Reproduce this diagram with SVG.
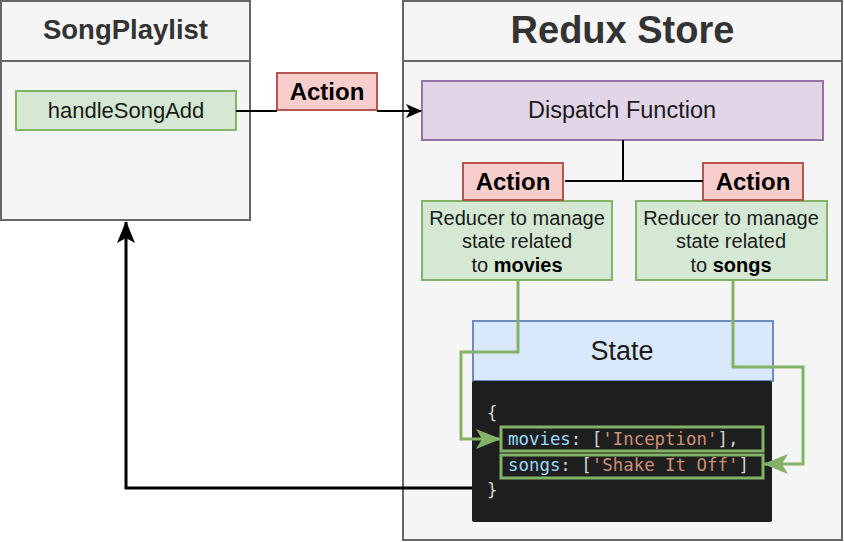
<svg xmlns="http://www.w3.org/2000/svg" width="844" height="542" viewBox="0 0 844 542">
<style>
.sans{font-family:"Liberation Sans",Arial,sans-serif;}
.mono{font-family:"DejaVu Sans Mono","Liberation Mono",monospace;font-size:17.4px;}
.cont{fill:#f5f5f5;stroke:#666666;stroke-width:2;}
.green{fill:#d5e8d4;stroke:#82b366;stroke-width:2;}
.red{fill:#f8cecc;stroke:#b85450;stroke-width:2;}
.act{font-size:24px;font-weight:bold;fill:#000;}
.red-txt{font-size:20px;fill:#1a1a1a;}
.k{fill:#9cdcfe;}.p{fill:#d4d4d4;}.s{fill:#ce9178;}
</style>
<defs>
<marker id="blk" markerWidth="16" markerHeight="16" refX="15" refY="8" orient="auto" markerUnits="userSpaceOnUse" viewBox="0 0 16 16"><path d="M0,1 L16,8 L0,15 L4,8 Z" fill="#000"/></marker>
<marker id="blk2" markerWidth="22" markerHeight="22" refX="21" refY="11" orient="auto" markerUnits="userSpaceOnUse" viewBox="0 0 22 22"><path d="M0,2 L22,11 L0,20 L5,11 Z" fill="#000"/></marker>
<marker id="grn" markerWidth="25" markerHeight="22" refX="24" refY="11" orient="auto" markerUnits="userSpaceOnUse" viewBox="0 0 25 22"><path d="M0,1 L25,11 L0,21 L6,11 Z" fill="#82b366"/></marker>
</defs>
<rect width="844" height="542" fill="#ffffff"/>
<g id="songplaylist">
<rect class="cont" x="1" y="1" width="249" height="219"/>
<line x1="1" y1="61" x2="250" y2="61" stroke="#666666" stroke-width="2"/>
<text class="sans" x="125.5" y="39" text-anchor="middle" font-size="27.5" font-weight="bold" fill="#333333">SongPlaylist</text>
</g>
<g id="handleSongAdd">
<rect class="green" x="16" y="91" width="220" height="39"/>
<text class="sans" x="126" y="118" text-anchor="middle" font-size="22" fill="#1a1a1a">handleSongAdd</text>
</g>
<g id="reduxstore">
<rect class="cont" x="403" y="1" width="439" height="539"/>
<line x1="403" y1="61" x2="842" y2="61" stroke="#666666" stroke-width="2"/>
<text class="sans" x="622.5" y="43" text-anchor="middle" font-size="38" font-weight="bold" fill="#333333">Redux Store</text>
</g>
<g id="dispatch">
<rect x="422" y="81" width="401" height="59" fill="#e1d5e7" stroke="#9673a6" stroke-width="2"/>
<text class="sans" x="622" y="118" text-anchor="middle" font-size="23.5" fill="#1a1a1a">Dispatch Function</text>
</g>
<g id="reducer-movies">
<rect class="green" x="422" y="201" width="190" height="79"/>
<text class="sans red-txt" x="517" y="225" text-anchor="middle">Reducer to manage</text>
<text class="sans red-txt" x="517" y="248" text-anchor="middle">state related</text>
<text class="sans red-txt" x="517" y="272" text-anchor="middle">to <tspan font-weight="bold" fill="#000">movies</tspan></text>
</g>
<g id="reducer-songs">
<rect class="green" x="636" y="201" width="191" height="79"/>
<text class="sans red-txt" x="731" y="225" text-anchor="middle">Reducer to manage</text>
<text class="sans red-txt" x="731" y="248" text-anchor="middle">state related</text>
<text class="sans red-txt" x="731" y="272" text-anchor="middle">to <tspan font-weight="bold" fill="#000">songs</tspan></text>
</g>
<g id="state">
<rect x="473" y="321" width="300" height="60" fill="#dae8fc" stroke="#6c8ebf" stroke-width="2"/>
<text class="sans" x="622" y="360" text-anchor="middle" font-size="27" fill="#1a1a1a">State</text>
</g>
<g id="code">
<rect x="472" y="381" width="300" height="141" rx="2" fill="#1e1e1e"/>
<text class="mono p" x="487" y="419">{</text>
<text class="mono" x="508" y="445"><tspan class="k">movies</tspan><tspan class="p">: [</tspan><tspan class="s">'Inception'</tspan><tspan class="p">],</tspan></text>
<text class="mono" x="508" y="471"><tspan class="k">songs</tspan><tspan class="p">: [</tspan><tspan class="s">'Shake It Off'</tspan><tspan class="p">]</tspan></text>
<text class="mono p" x="487" y="496">}</text>
<rect x="501" y="427" width="262" height="24" fill="none" stroke="#82b366" stroke-width="3"/>
<rect x="501" y="455" width="262" height="23" fill="none" stroke="#82b366" stroke-width="3"/>
</g>
<g id="action-top">
<rect class="red" x="277" y="73" width="100" height="37"/>
<text class="sans act" x="327" y="100" text-anchor="middle">Action</text>
</g>
<g id="action-left">
<rect class="red" x="463" y="163" width="100" height="37"/>
<text class="sans act" x="513" y="190" text-anchor="middle">Action</text>
</g>
<g id="action-right">
<rect class="red" x="703" y="163" width="100" height="37"/>
<text class="sans act" x="753" y="190" text-anchor="middle">Action</text>
</g>
<g id="connectors" fill="none">
<path d="M236,111 L277,111" stroke="#000" stroke-width="2"/>
<path d="M377,111 L421,111" stroke="#000" stroke-width="2" marker-end="url(#blk)"/>
<path d="M623,140 L623,181 M565,181 L703,181" stroke="#000" stroke-width="2"/>
<path d="M518,280 L518,352 L461,352 L461,439 L500,439" stroke="#82b366" stroke-width="3" marker-end="url(#grn)"/>
<path d="M733,280 L733,367 L803,367 L803,464 L764,464" stroke="#82b366" stroke-width="3" marker-end="url(#grn)"/>
<path d="M472,488 L126,488 L126,222" stroke="#000" stroke-width="3" marker-end="url(#blk2)"/>
</g>
</svg>
